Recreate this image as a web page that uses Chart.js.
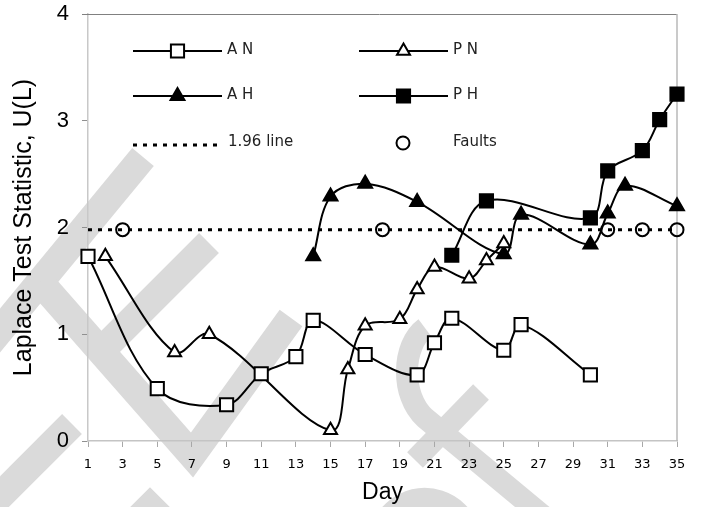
<!DOCTYPE html>
<html>
<head>
<meta charset="utf-8">
<script src="https://cdn.jsdelivr.net/npm/chart.js@4.4.0/dist/chart.umd.min.js"></script>
<style>
  html, body { margin: 0; padding: 0; background: #fff; }
  #wrap { width: 706px; height: 507px; }
</style>
</head>
<body>
<div id="wrap"><canvas id="chart" width="706" height="507"></canvas></div>
<script>
// values
const dayTicks = [1, 3, 5, 7, 9, 11, 13, 15, 17, 19, 21, 23, 25, 27, 29, 31, 33, 35];
const yTicks = [0, 1, 2, 3, 4];

const anDays = [1, 5, 9, 11, 13, 14, 17, 20, 21, 22, 25, 26, 30];
const anValues = [1.73, 0.49, 0.34, 0.63, 0.79, 1.13, 0.81, 0.62, 0.92, 1.15, 0.85, 1.09, 0.62];

const pnDays = [2, 6, 8, 15, 16, 17, 19, 20, 21, 23, 24, 25];
const pnValues = [1.73, 0.83, 1.0, 0.1, 0.67, 1.08, 1.14, 1.42, 1.63, 1.52, 1.69, 1.85];

const ahDays = [14, 15, 17, 20, 25, 26, 30, 31, 32, 35];
const ahValues = [1.73, 2.29, 2.41, 2.24, 1.75, 2.12, 1.84, 2.13, 2.39, 2.2];

const phDays = [22, 24, 30, 31, 33, 34, 35];
const phValues = [1.74, 2.25, 2.09, 2.53, 2.72, 3.01, 3.25];

const faultDays = [3, 18, 31, 33, 35];
const faultValues = [1.98, 1.98, 1.98, 1.98, 1.98];

const refDays = [1, 35];
const refValues = [1.98, 1.98];

function pts(days, vals) {
    return days.map((d, i) => ({ x: d, y: vals[i] }));
}

// marker shapes, same geometry as chart.js point styles
function mark(ctx, style, x, y, r, fill) {
    ctx.beginPath();
    if (style === 'rect') {
        const s = r * Math.SQRT1_2;
        ctx.rect(x - s, y - s, 2 * s, 2 * s);
    } else if (style === 'triangle') {
        ctx.moveTo(x, y - r);
        ctx.lineTo(x + r * Math.sin(2 * Math.PI / 3), y + r / 2);
        ctx.lineTo(x - r * Math.sin(2 * Math.PI / 3), y + r / 2);
        ctx.closePath();
    } else {
        ctx.arc(x, y, r, 0, Math.PI * 2);
    }
    ctx.fillStyle = fill;
    ctx.fill();
    ctx.stroke();
}

// faint grey watermark behind the chart
const watermark = {
    id: 'watermark',
    beforeDraw(chart) {
        const ctx = chart.ctx;
        ctx.save();
        ctx.fillStyle = '#fff';
        ctx.fillRect(0, 0, chart.width, chart.height);
        ctx.strokeStyle = '#dadada';
        ctx.lineCap = 'butt';
        ctx.lineJoin = 'miter';
        ctx.lineWidth = 28;
        const polys = [
            [[143, 157], [-30, 367]],
            [[40, 282], [192, 455], [291, 318]],
            [[209, 243], [100, 352]],
            [[72, 424], [-20, 516]],
            [[110, 547], [150, 507], [190, 547]]
        ];
        polys.forEach(p => {
            ctx.beginPath();
            ctx.moveTo(p[0][0], p[0][1]);
            p.slice(1).forEach(q => ctx.lineTo(q[0], q[1]));
            ctx.stroke();
        });
        ctx.lineWidth = 22;
        ctx.beginPath();
        ctx.moveTo(425, 328);
        ctx.bezierCurveTo(402, 345, 400, 395, 425, 418);
        ctx.lineTo(560, 530);
        ctx.stroke();
        ctx.beginPath();
        ctx.moveTo(481, 392);
        ctx.lineTo(415, 460);
        ctx.stroke();
        ctx.lineWidth = 20;
        ctx.beginPath();
        ctx.arc(425, 545, 47, Math.PI * 1.1, Math.PI * 1.9);
        ctx.stroke();
        ctx.restore();
    }
};

// top and right frame lines
const frame = {
    id: 'frame',
    beforeDatasetsDraw(chart) {
        const { ctx, chartArea: a } = chart;
        ctx.save();
        ctx.lineWidth = 1;
        ctx.strokeStyle = '#808080';
        ctx.beginPath();
        ctx.moveTo(a.left - 6, a.top + 0.5);
        ctx.lineTo(a.right, a.top + 0.5);
        ctx.stroke();
        ctx.lineWidth = 1.5;
        ctx.strokeStyle = '#b8b8b8';
        ctx.beginPath();
        ctx.moveTo(a.right, a.top);
        ctx.lineTo(a.right, a.bottom);
        ctx.stroke();
        ctx.restore();
    }
};

// legend drawn inside the plot, two columns
const insideLegend = {
    id: 'insideLegend',
    afterDatasetsDraw(chart) {
        const ctx = chart.ctx;
        const ds = chart.data.datasets;
        const items = [
            { i: 0, x1: 133, x2: 222, y: 51, tx: 227, ty: 50 },
            { i: 1, x1: 359, x2: 448, y: 51, tx: 453, ty: 50 },
            { i: 2, x1: 133, x2: 222, y: 96, tx: 227, ty: 95 },
            { i: 3, x1: 359, x2: 448, y: 96, tx: 453, ty: 95 },
            { i: 5, x1: 133, x2: 220, y: 145, tx: 228, ty: 142 },
            { i: 4, x1: 403, x2: 403, y: 143, tx: 453, ty: 142 }
        ];
        ctx.save();
        items.forEach(it => {
            const d = ds[it.i];
            ctx.strokeStyle = '#000';
            ctx.lineWidth = d.borderWidth;
            ctx.setLineDash(d.borderDash || []);
            if (d.showLine !== false) {
                ctx.beginPath();
                ctx.moveTo(it.x1, it.y);
                ctx.lineTo(it.x2, it.y);
                ctx.stroke();
            }
            ctx.setLineDash([]);
            if (d.pointRadius > 0) {
                ctx.lineWidth = d.pointBorderWidth;
                mark(ctx, d.pointStyle, (it.x1 + it.x2) / 2, it.y, d.pointRadius, d.pointBackgroundColor);
            }
            ctx.fillStyle = '#222';
            ctx.font = '15px "DejaVu Sans"';
            ctx.textBaseline = 'middle';
            ctx.textAlign = 'left';
            ctx.fillText(d.label, it.tx, it.ty);
        });
        ctx.restore();
    }
};

const line = (label, data, style, r, fill) => ({
    label: label,
    data: data,
    borderColor: '#000',
    borderWidth: 2,
    tension: 0.35,
    pointStyle: style,
    pointRadius: r,
    pointBorderWidth: 2,
    pointBorderColor: '#000',
    pointBackgroundColor: fill,
    clip: false
});

new Chart(document.getElementById('chart'), {
    type: 'line',
    data: {
        datasets: [
            line('A N', pts(anDays, anValues), 'rect', 9.3, '#fff'),
            line('P N', pts(pnDays, pnValues), 'triangle', 7.5, '#fff'),
            line('A H', pts(ahDays, ahValues), 'triangle', 8, '#000'),
            line('P H', pts(phDays, phValues), 'rect', 9.3, '#000'),
            {
                label: 'Faults',
                data: pts(faultDays, faultValues),
                showLine: false,
                borderColor: '#000',
                borderWidth: 2,
                pointStyle: 'circle',
                pointRadius: 6.5,
                pointBorderWidth: 2,
                pointBorderColor: '#000',
                pointBackgroundColor: 'rgba(255,255,255,0)',
                clip: false
            },
            {
                label: '1.96 line',
                data: pts(refDays, refValues),
                borderColor: '#000',
                borderWidth: 3,
                borderDash: [4, 6],
                pointRadius: 0,
                pointBorderWidth: 0,
                clip: false
            }
        ]
    },
    options: {
        responsive: false,
        animation: false,
        events: [],
        layout: { padding: { top: 14, right: 29, left: 0, bottom: 0 } },
        plugins: {
            legend: { display: false },
            tooltip: { enabled: false }
        },
        scales: {
            x: {
                type: 'linear',
                min: 1,
                max: 35,
                afterBuildTicks: s => { s.ticks = dayTicks.map(v => ({ value: v })); },
                afterFit: s => {
                    s.height = 66;
                    s.paddingLeft = 0;
                    s.paddingRight = 0;
                },
                ticks: {
                    color: '#000',
                    font: { family: 'DejaVu Sans', size: 13 },
                    padding: 10,
                    maxRotation: 0,
                    autoSkip: false
                },
                grid: { drawOnChartArea: false, tickLength: 6, color: '#a8a8a8' },
                border: { color: '#c4c4c4', width: 1.5 },
                title: {
                    display: true,
                    text: 'Day',
                    color: '#000',
                    font: { family: 'Liberation Sans', size: 23 },
                    padding: { top: 0, bottom: 1 }
                }
            },
            y: {
                min: 0,
                max: 4,
                afterBuildTicks: s => { s.ticks = yTicks.map(v => ({ value: v })); },
                afterFit: s => {
                    s.width = 88;
                    s.paddingTop = 0;
                    s.paddingBottom = 0;
                },
                ticks: {
                    color: '#000',
                    font: { family: 'Liberation Sans', size: 22 },
                    padding: 13
                },
                grid: { drawOnChartArea: false, tickLength: 6, color: '#909090' },
                border: { color: '#c8c8c8', width: 1.5 },
                title: {
                    display: true,
                    text: 'Laplace Test Statistic, U(L)',
                    color: '#000',
                    font: { family: 'Liberation Sans', size: 25 },
                    padding: { top: 9, bottom: 0 }
                }
            }
        }
    },
    plugins: [watermark, frame, insideLegend]
});
</script>
</body>
</html>
